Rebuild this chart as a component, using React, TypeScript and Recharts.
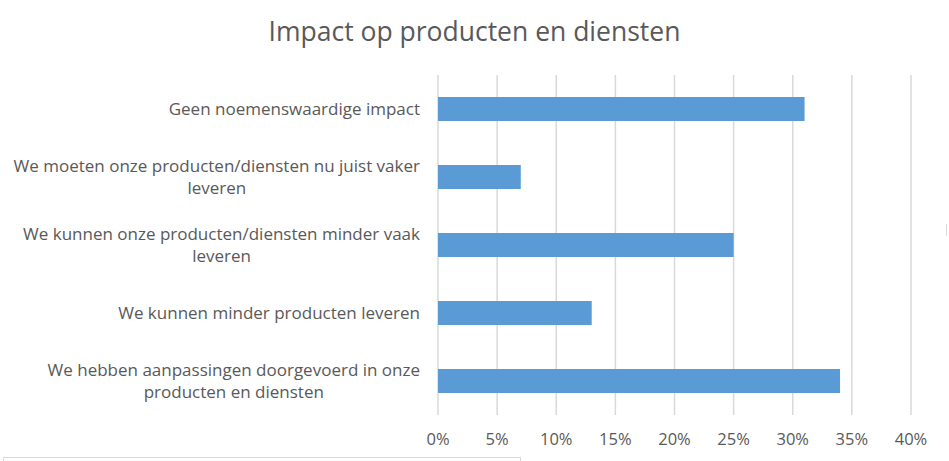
import { BarChart, Bar, XAxis, YAxis, CartesianGrid } from "recharts";

const categories = [
  "Geen noemenswaardige impact",
  "We moeten onze producten/diensten nu juist vaker leveren",
  "We kunnen onze producten/diensten minder vaak leveren",
  "We kunnen minder producten leveren",
  "We hebben aanpassingen doorgevoerd in onze producten en diensten",
];
const shares = [0.31, 0.07, 0.25, 0.13, 0.34];
const xTicks = [0, 0.05, 0.1, 0.15, 0.2, 0.25, 0.3, 0.35, 0.4];

const data = categories.map((name, i) => ({ name, value: shares[i] }));

const FONT = "'Open Sans', sans-serif";
const LABEL_SIZE = 17;
const TEXT = "#595959";

let ctx: CanvasRenderingContext2D | null = null;
function measure(s: string) {
  if (!ctx) ctx = document.createElement("canvas").getContext("2d");
  if (!ctx) return s.length * 8.5;
  ctx.font = `${LABEL_SIZE}px ${FONT}`;
  return ctx.measureText(s).width;
}

function wrap(text: string, maxW: number) {
  const words = text.split(" ");
  const lines: string[] = [];
  let cur = "";
  for (const w of words) {
    const next = cur ? cur + " " + w : w;
    if (cur && measure(next) > maxW) {
      lines.push(cur);
      cur = w;
    } else cur = next;
  }
  if (cur) lines.push(cur);
  return lines;
}

function CategoryTick(props: any) {
  const { y, payload } = props;
  const lines = wrap(payload.value, 418);
  const widest = Math.max(...lines.map(measure));
  const cx = 420 - widest / 2;
  const lh = 22;
  const top = y - ((lines.length - 1) * lh) / 2;
  return (
    <text textAnchor="middle" fill={TEXT} fontSize={LABEL_SIZE} fontFamily={FONT}>
      {lines.map((l, i) => (
        <tspan key={i} x={cx} y={top + i * lh} dy="0.35em">
          {l}
        </tspan>
      ))}
    </text>
  );
}

export default function App() {
  return (
    <div style={{ position: "relative", width: 949, height: 461, background: "#fff", overflow: "hidden" }}>
      <style>{`body{margin:0}`}</style>
      <div
        style={{
          position: "absolute",
          top: 13,
          width: 949,
          textAlign: "center",
          fontFamily: FONT,
          fontSize: 26.5,
          color: TEXT,
        }}
      >
        Impact op producten en diensten
      </div>
      <BarChart
        layout="vertical"
        width={949}
        height={461}
        data={data}
        margin={{ top: 75, right: 38, bottom: 0, left: 0 }}
      >
        <CartesianGrid horizontal={false} stroke="#d9d9d9" strokeWidth={1.5} />
        <XAxis
          type="number"
          domain={[0, 0.4]}
          ticks={xTicks}
          tickFormatter={(v: number) => `${Math.round(v * 100)}%`}
          axisLine={false}
          tickLine={false}
          height={46}
          tick={{ fill: TEXT, fontSize: 16.5, fontFamily: FONT, dy: 10 }}
        />
        <YAxis
          type="category"
          dataKey="name"
          width={438}
          axisLine={false}
          tickLine={false}
          tick={<CategoryTick />}
        />
        <Bar dataKey="value" fill="#5b9bd5" barSize={24} isAnimationActive={false} />
      </BarChart>
      <div
        style={{
          position: "absolute",
          left: 3,
          top: 457,
          width: 516,
          height: 20,
          border: "1px solid #d9d9d9",
        }}
      />
      <div style={{ position: "absolute", left: 946, top: 224, width: 1, height: 12, background: "#d9d9d9" }} />
    </div>
  );
}
